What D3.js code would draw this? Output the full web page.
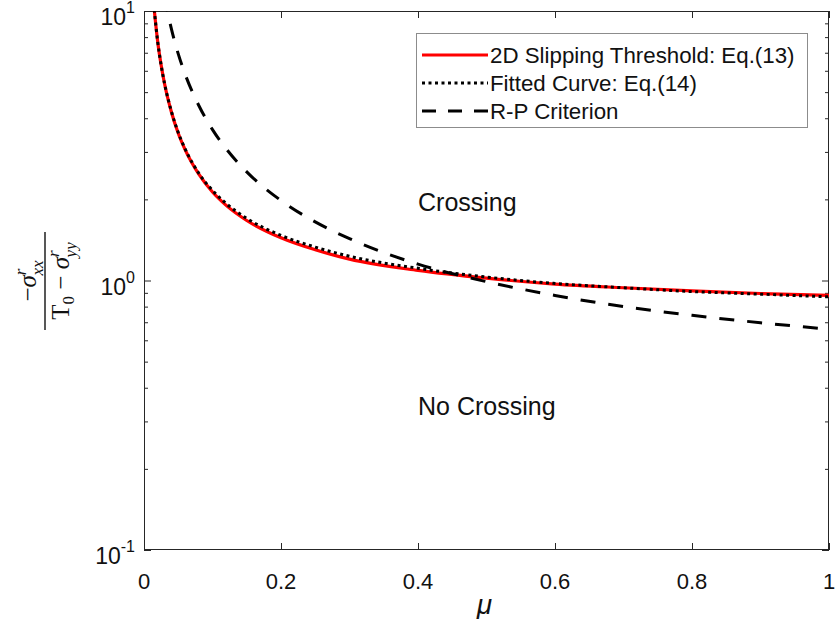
<!DOCTYPE html>
<html><head><meta charset="utf-8">
<script src="https://cdn.jsdelivr.net/npm/d3@7"></script>
<style>body{margin:0;background:#fff}svg{display:block}</style>
</head><body>
<svg id="chart" width="835" height="619"></svg>
<script>
const muRed = [0.014,0.02,0.025,0.03,0.04,0.05,0.06,0.08,0.1,0.12,0.15,0.2,0.25,0.3,0.4,0.5,0.6,0.7,0.8,0.9,1.0];
const slipThreshold = [10.7,7.69,6.30,5.37,4.22,3.52,3.06,2.48,2.13,1.90,1.67,1.44,1.30,1.20,1.09,1.02,0.97,0.94,0.915,0.895,0.88];
const fittedCurve   = [10.7,7.69,6.30,5.38,4.24,3.54,3.08,2.50,2.16,1.93,1.70,1.47,1.33,1.23,1.11,1.03,0.975,0.94,0.91,0.89,0.87];
const muRP = [0.03,0.035,0.04,0.05,0.06,0.08,0.1,0.12,0.15,0.2,0.25,0.3,0.4,0.5,0.6,0.7,0.8,0.9,1.0];
const rpCriterion = [11.34,9.76,8.58,6.93,5.83,4.46,3.63,3.08,2.53,1.98,1.65,1.43,1.15,0.99,0.88,0.80,0.743,0.697,0.66];
const xTicks = [0,0.2,0.4,0.6,0.8,1];
const xTickLabels = ["0","0.2","0.4","0.6","0.8","1"];
const yMajor = [0.1,1,10];
const yExp = ["-1","0","1"];
const legendLabels = ["2D Slipping Threshold: Eq.(13)","Fitted Curve: Eq.(14)","R-P Criterion"];

const sans = "Arial,'Liberation Sans',sans-serif";
const serif = "'Liberation Serif','Times New Roman',serif";
const svg = d3.select("#chart");
const L=144, R=829, T=11, B=550;
const x = d3.scaleLinear().domain([0,1]).range([L,R]);
const y = d3.scaleLog().domain([0.1,10]).range([B,T]);
const axisColor="#262626";

svg.append("defs").append("clipPath").attr("id","clip")
  .append("rect").attr("x",L).attr("y",T).attr("width",R-L).attr("height",B-T);

const yMinor=[];
[0.1,1].forEach(d=>{for(let k=2;k<=9;k++) yMinor.push(d*k);});

function styleAxis(g){g.select(".domain").remove();g.selectAll("line").attr("stroke",axisColor).attr("stroke-width",1);g.selectAll("text").remove();}
svg.append("g").attr("transform",`translate(0,${B})`).call(d3.axisBottom(x).tickValues(xTicks).tickSize(-7)).call(styleAxis);
svg.append("g").attr("transform",`translate(0,${T})`).call(d3.axisTop(x).tickValues(xTicks).tickSize(-7)).call(styleAxis);
svg.append("g").attr("transform",`translate(${L},0)`).call(d3.axisLeft(y).tickValues(yMajor).tickSize(-7)).call(styleAxis);
svg.append("g").attr("transform",`translate(${R},0)`).call(d3.axisRight(y).tickValues(yMajor).tickSize(-7)).call(styleAxis);
svg.append("g").attr("transform",`translate(${L},0)`).call(d3.axisLeft(y).tickValues(yMinor).tickSize(-4)).call(styleAxis);
svg.append("g").attr("transform",`translate(${R},0)`).call(d3.axisRight(y).tickValues(yMinor).tickSize(-4)).call(styleAxis);

svg.append("rect").attr("x",L+0.5).attr("y",T+0.5).attr("width",R-L-1).attr("height",B-T-1)
  .attr("fill","none").attr("stroke",axisColor).attr("stroke-width",1);

// x tick labels
svg.append("g").selectAll("text").data(xTicks).join("text")
  .attr("x",d=>x(d)).attr("y",589).attr("text-anchor","middle").style("font-family",sans).style("font-size","22px").attr("fill","#111")
  .text((d,i)=>xTickLabels[i]);
// y tick labels
const yl = svg.append("g").selectAll("text").data(yMajor).join("text")
  .attr("x",135).attr("y",d=>y(d)+14).attr("text-anchor","end").style("font-family",sans).style("font-size","23px").attr("fill","#111");
yl.append("tspan").text("10");
yl.append("tspan").attr("dy",-12).style("font-size","16px").text((d,i)=>yExp[i]);

// x label
svg.append("text").attr("x",x(0.5)-2).attr("y",614).attr("text-anchor","middle")
  .style("font-family",sans).style("font-size","28px").style("font-style","italic").attr("fill","#111").text("μ");

// y label (fraction)
const yg = svg.append("g").attr("transform","translate(45,281) rotate(-90)");
yg.append("line").attr("x1",-49).attr("x2",49).attr("y1",0).attr("y2",0).attr("stroke","#111").attr("stroke-width",1.4);
const num = yg.append("text").attr("x",0).attr("y",-9).attr("text-anchor","middle").style("font-family",serif).style("font-size","25px").attr("fill","#111");
num.append("tspan").text("−");
num.append("tspan").style("font-style","italic").text("σ");
num.append("tspan").style("font-style","italic").style("font-size","17px").attr("dy",-10).text("r");
num.append("tspan").style("font-style","italic").style("font-size","17px").attr("dx",-7).attr("dy",17).text("xx");
const den = yg.append("text").attr("x",0).attr("y",24).attr("text-anchor","middle").style("font-family",serif).style("font-size","25px").attr("fill","#111");
den.append("tspan").text("T");
den.append("tspan").style("font-size","17px").attr("dy",5).text("0");
den.append("tspan").attr("dy",-5).text(" − ");
den.append("tspan").style("font-style","italic").text("σ");
den.append("tspan").style("font-style","italic").style("font-size","17px").attr("dy",-10).text("r");
den.append("tspan").style("font-style","italic").style("font-size","17px").attr("dx",-7).attr("dy",17).text("yy");

// curves
const plot = svg.append("g").attr("clip-path","url(#clip)");
const line = d3.line().x(d=>x(d[0])).y(d=>y(d[1])).curve(d3.curveMonotoneX);
plot.append("path").datum(muRed.map((m,i)=>[m,slipThreshold[i]])).attr("d",line)
  .attr("fill","none").attr("stroke","#ff0000").attr("stroke-width",3.2);
plot.append("path").datum(muRed.map((m,i)=>[m,fittedCurve[i]])).attr("d",line)
  .attr("fill","none").attr("stroke","#000").attr("stroke-width",3).attr("stroke-dasharray","3,3.5");
plot.append("path").datum(muRP.map((m,i)=>[m,rpCriterion[i]])).attr("d",line)
  .attr("fill","none").attr("stroke","#000").attr("stroke-width",3).attr("stroke-dasharray","15,13");

// region labels
svg.append("text").attr("x",418).attr("y",211).style("font-family",sans).style("font-size","25px").attr("fill","#111").text("Crossing");
svg.append("text").attr("x",418).attr("y",415).style("font-family",sans).style("font-size","25px").attr("fill","#111").text("No Crossing");

// legend
const lg = svg.append("g");
lg.append("rect").attr("x",416.5).attr("y",33.5).attr("width",391).attr("height",94).attr("fill","#fff").attr("stroke","#8c8c8c").attr("stroke-width",1);
const rows=[55,83,111];
const styles=[{c:"#ff0000",d:null},{c:"#000",d:"3,3.5"},{c:"#000",d:"14,12"}];
rows.forEach((ry,i)=>{
  const l=lg.append("line").attr("x1",422).attr("x2",488).attr("y1",ry).attr("y2",ry).attr("stroke",styles[i].c).attr("stroke-width",3);
  if(styles[i].d) l.attr("stroke-dasharray",styles[i].d);
  lg.append("text").attr("x",490).attr("y",ry+8).style("font-family",sans).style("font-size","22.3px").attr("fill","#111").text(legendLabels[i]);
});
</script>
</body></html>
